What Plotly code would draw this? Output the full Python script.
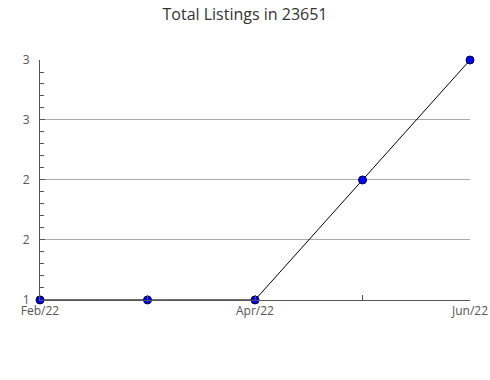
import plotly.graph_objects as go

months = ["Feb/22", "Mar/22", "Apr/22", "May/22", "Jun/22"]
listings = [1, 1, 1, 2, 3]
tick_labels_x = ["Feb/22", "", "Apr/22", "", "Jun/22"]
y_tickvals = [1, 1.5, 2, 2.5, 3]
y_ticktext = ["1", "2", "2", "3", "3"]

xpos = list(range(len(months)))

fig = go.Figure()
fig.add_trace(go.Scatter(
    x=xpos, y=listings, mode="lines+markers",
    line=dict(color="black", width=1),
    marker=dict(color="#0000ff", size=8, line=dict(color="#000033", width=1)),
    cliponaxis=False,
    hovertext=months,
))

fig.update_layout(
    width=490, height=380,
    margin=dict(l=40, r=20, t=60, b=80, autoexpand=False),
    paper_bgcolor="white", plot_bgcolor="white",
    showlegend=False,
    title=dict(text="Total Listings in 23651", x=0.5, xanchor="center", y=0.962, yanchor="middle",
               font=dict(family="Open Sans", size=16, color="#333333")),
    font=dict(family="Open Sans", size=12, color="#555555"),
)
fig.update_xaxes(
    range=[0, 4], tickvals=xpos, ticktext=tick_labels_x,
    ticks="inside", ticklen=5, tickcolor="#555555",
    showline=True, linecolor="#555555", linewidth=1,
    showgrid=False, zeroline=False, automargin=False,
    tickfont=dict(size=12, color="#555555"),
)
fig.update_yaxes(
    range=[0.9995, 3], tickvals=y_tickvals, ticktext=y_ticktext,
    ticks="inside", ticklen=5, tickcolor="#555555",
    showline=True, linecolor="#555555", linewidth=1,
    showgrid=True, gridcolor="#aaaaaa", gridwidth=1,
    zeroline=False, automargin=False, ticklabelstandoff=7,
    minor=dict(dtick=0.1, tick0=1, ticks="inside", ticklen=4, tickcolor="#555555", showgrid=False),
    tickfont=dict(size=12, color="#555555"),
)

fig.write_html("out.html")
